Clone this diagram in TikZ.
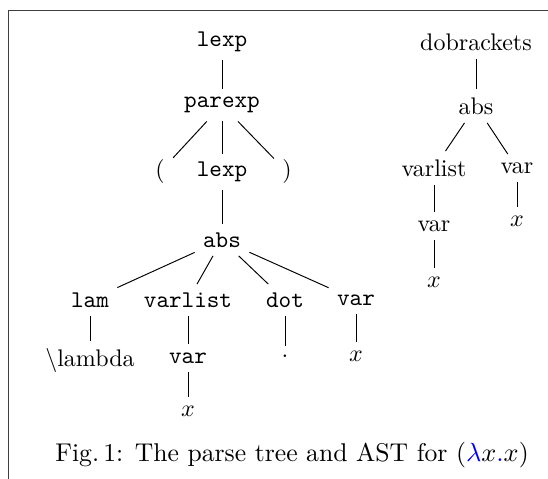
\documentclass[tikz,border=0pt]{standalone}
\usepackage{xcolor}
\begin{document}
\begin{tikzpicture}[x=0.4167pt,y=-0.4167pt]
      \useasboundingbox (0,0) rectangle (548,479);
      \draw[black!75,line width=0.6pt] (8.5,479) -- (8.5,10.5) -- (548,10.5);
      % parse tree
      \draw
        (222,42) node (lexp){\texttt{lexp}}
        (222,105) node (parexp){\texttt{parexp}}
        (160,172) node (lpar){(}
        (222,172) node (lexpb){\texttt{lexp}}
        (287,172) node (rpar){)}
        (222,240) node (abs){\texttt{abs}}
        (90,300) node (lam){\texttt{lam}}
        (188,300) node (varlist){\texttt{varlist}}
        (285,300) node (dot){\texttt{dot}}
        (356,300) node (var){\texttt{var}}
        (90,361) node (lambda){\textbackslash lambda}
        (188,358) node (varb){\texttt{var}}
        (285,356) node (dotsym){.}
        (356,356) node (x){$x$}
        (188,411) node (xb){$x$};
      % AST
      \draw
        (476,42) node (dobr){dobrackets}
        (476,106) node (absr){abs}
        (434,168) node (varlistr){varlist}
        (517,168) node (varr){var}
        (434,226) node (varbr){var}
        (517,221) node (xr){$x$}
        (434,282) node (xbr){$x$};
      \begin{scope}[-]
        \draw (lexp) to (parexp);
        \draw (parexp) to (lpar);
        \draw (parexp) to (lexpb);
        \draw (parexp) to (rpar);
        \draw (lexpb) to (abs);
        \draw (abs) to (lam);
        \draw (abs) to (varlist);
        \draw (abs) to (dot);
        \draw (abs) to (var);
        \draw (lam) to (lambda);
        \draw (varlist) to (varb);
        \draw (dot) to (dotsym);
        \draw (var) to (x);
        \draw (varb) to (xb);
        \draw (dobr) to (absr);
        \draw (absr) to (varlistr);
        \draw (absr) to (varr);
        \draw (varlistr) to (varbr);
        \draw (varr) to (xr);
        \draw (varbr) to (xbr);
      \end{scope}
      \node[font=\fontsize{10.7}{13}\selectfont] (caption) at (292,455) {Fig.\,1: The parse tree and AST for ($\textcolor{blue}{\lambda}x\textcolor{blue}{.}x$)};
    \end{tikzpicture}
\end{document}
